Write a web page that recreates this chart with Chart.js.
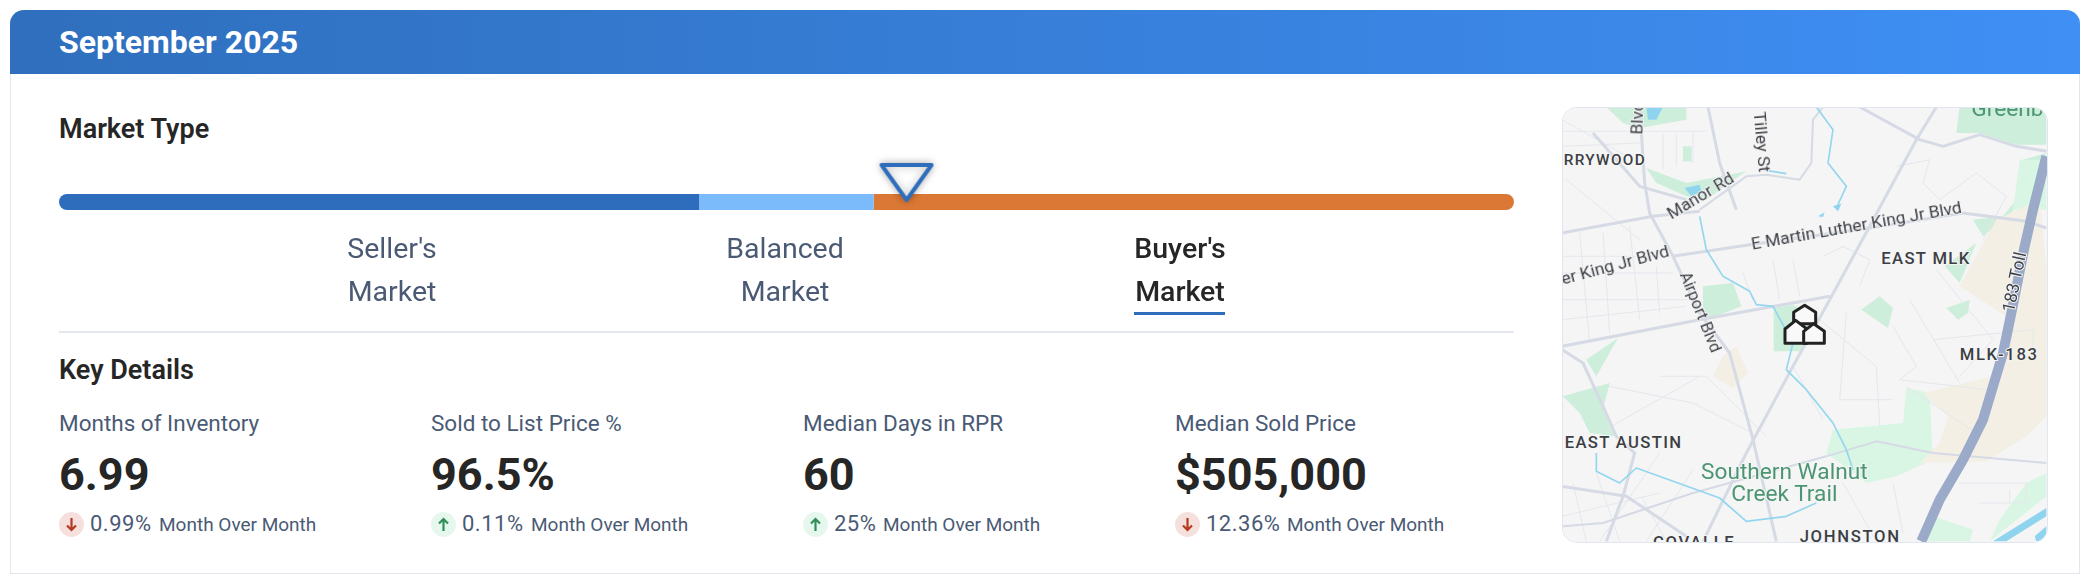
<!DOCTYPE html>
<html lang="en">
<head>
<meta charset="UTF-8">
<title>Market Type - September 2025</title>
<script src="https://cdn.jsdelivr.net/npm/chart.js@4"></script>
<style>
   html, body { margin: 0; padding: 0; background: #fff; }
   body { width: 2096px; height: 588px; position: relative; overflow: hidden; font-family: Roboto, sans-serif; color: #262626; }
   .abs { position: absolute; white-space: nowrap; line-height: 1; }
   #card { position: absolute; left: 10px; top: 10px; width: 2068px; height: 563px; border: 1px solid #e2e6ef; border-top: none; border-radius: 14px 14px 0 0; }
   #head { position: absolute; left: 10px; top: 10px; width: 2070px; height: 64px; border-radius: 14px 14px 0 0; background: linear-gradient(90deg, #2f6fbd, #3f8ff5); }
   #title { left: 59px; top: 26px; font-size: 32px; font-weight: 700; color: #fff; }
   #chartbox { position: absolute; left: 59px; top: 150px; width: 1455px; height: 104px; }
   .type { position: absolute; width: 240px; text-align: center; font-size: 28.5px; line-height: 43px; top: 227px; color: #4a5a75; }
   .type.on { color: #262626; font-weight: 500; }
   #underline { position: absolute; left: 1134px; top: 312px; width: 91px; height: 3px; background: #2e6dbb; }
   #divider { position: absolute; left: 59px; top: 331px; width: 1455px; height: 2px; background: #e4e7ee; }
   .kl { font-size: 22.5px; color: #4a5a75; top: 412px; }
   .kv { font-size: 45px; font-weight: 700; top: 452px; }
   .badge { position: absolute; width: 25px; height: 25px; top: 512px; border-radius: 50%; }
   .badge svg { position: absolute; left: 5px; top: 5px; }
   .kp { font-size: 22px; color: #4a5a75; top: 513px; letter-spacing: .5px; }
   .kn { font-size: 19px; color: #4a5a75; top: 515px; }
   #map { position: absolute; left: 1563px; top: 108px; width: 484px; height: 434px; border-radius: 14px; overflow: hidden; box-shadow: 0 0 0 1px #e2e6ef; }
   #map svg { filter: blur(.5px); }
   #map text { font-family: Roboto, sans-serif; paint-order: stroke; stroke: #f5f5f6; stroke-width: 6px; stroke-linejoin: round; fill: #3c3f44; }
</style>
</head>
<body>
<div id="card"></div>
<div id="head"></div>
<div class="abs" id="title">September 2025</div>
<div class="abs" style="left:59px;top:116px;font-size:27px;font-weight:600">Market Type</div>
<div id="chartbox"><canvas id="marketChart" width="1455" height="104"></canvas></div>
<div id="types"></div>
<div id="underline"></div>
<div id="divider"></div>
<div class="abs" style="left:59px;top:357px;font-size:27px;font-weight:600">Key Details</div>
<div id="kpis"></div>
<div id="map">
<svg width="484" height="434" viewBox="10 25 1452 1302" xmlns="http://www.w3.org/2000/svg">
   <rect x="0" y="0" width="1500" height="1400" fill="#f5f5f6"/>
   <g fill="#cdeedb" stroke="none">
      <path d="M1200 22H1460V135L1370 135 1260 100 1190 100Z"/>
      <path d="M140 22H380V60L240 85 190 70Z"/>
      <path d="M260 205L380 250 560 215 530 235 440 300 380 290 290 250Z"/>
      <path d="M430 560L520 550 545 620 470 650 430 660Z"/>
      <path d="M642 625L700 615 780 660 730 755H642Z"/>
      <path d="M905 630L960 590 1000 625 985 685Z"/>
      <path d="M1160 625L1230 600 1225 640 1195 660Z"/>
      <path d="M1460 160L1390 180 1370 300 1330 350 1240 360 1270 410 1330 360 1420 280Z"/>
      <path d="M1155 500L1250 430 1200 550Z"/>
      <path d="M80 780L175 715 110 830Z"/>
      <path d="M10 890L150 850 130 930 165 1010 90 1000 60 940Z"/>
      <rect x="370" y="140" width="26" height="45"/>
   </g>
   <g fill="#d9f6e4" stroke="none">
      <path d="M1040 865L1110 880 1120 1080 1010 1130 920 1150 800 1060 820 990 1030 970Z"/>
      <path d="M1380 180L1460 180 1460 330 1360 330Z"/>
      <path d="M1120 1250L1240 1290 1230 1325 1100 1325Z"/>
      <path d="M1290 1325L1460 1190 1460 1120 1400 1150 1320 1260Z"/>
   </g>
   <g fill="#f4efe4" stroke="none">
      <path d="M1310 360L1440 300 1460 500 1460 950 1400 1010 1280 1085 1080 1090 1140 1030 1165 950 1090 880 1300 830 1340 650 1200 560Z"/>
      <path d="M490 770L530 740 565 820 520 865 460 830Z"/>
   </g>
   <g fill="none" stroke="#e4e7ec" stroke-width="3">
      <path d="M7 95H440M7 140L240 130M7 60L220 180M20 240L240 420M310 100V210M350 100V200M400 95V190M7 470H330M7 520H340M7 600H400M7 660L380 620M60 400L90 730M130 400L150 700M210 380L240 660M290 500L300 640"/>
      <path d="M550 520L580 600M640 480L660 600M700 480L720 590M790 470L850 440 930 480 900 560M1010 200L1110 180 1090 250 1140 300 1250 220 1340 290 1270 420M1000 680L1070 800 1020 840 1280 870M860 640L840 900 1000 900M780 660L950 800 960 980M700 800L790 960M620 1010L440 830 300 830M580 1000L400 910 150 860M120 1000L420 830M300 1060L120 1325M400 1110L260 1325M1120 720L1420 690 1420 770M1130 510L1300 720 1200 830M1050 600L1200 850"/>
      <path d="M850 1150L950 1325M1200 1150H1400V1210L1260 1210M1350 1170V1210M1250 1000L1040 860M7 1250L300 1180M40 1150L80 1325M110 1120L180 1325M250 1200L320 1325M1000 1150L1030 1300"/>
   </g>
   <g fill="none" stroke="#d5dae4" stroke-width="9" stroke-linejoin="round">
      <path d="M240 22L255 250 270 340 340 470 420 640 510 760 580 1020 650 1325"/>
      <path d="M445 22L480 190 530 330"/>
      <path d="M7 400L280 350 420 335"/>
      <path d="M340 470L570 435 930 385 1210 340 1400 365 1460 385"/>
      <path d="M7 740L420 660 810 590"/>
      <path d="M1130 22L1070 120 930 380 810 600 700 800 560 1060 430 1325"/>
      <path d="M900 22L1080 120 1150 140 1260 105 1370 140 1460 155"/>
      <path d="M7 750L70 790 130 920 170 1010 225 1060 190 1190 140 1325"/>
      <path d="M7 1160L200 1190 380 1310"/>
      <path d="M100 100L240 260 380 300"/>
      <path d="M420 330L560 230 620 225 720 240 755 190 760 60 790 22" stroke-width="6"/>
      <path d="M7 1280L130 1270 400 1180 800 1070 950 1025 1120 1060 1460 1090" stroke-width="6"/>
   </g>
   <g fill="none" stroke="#93d6ee" stroke-width="5" stroke-linejoin="round">
      <path d="M770 22L820 90 805 190 860 260 830 325"/>
      <path d="M420 350L440 450 490 530 570 575 590 615 640 620 700 730 680 810 740 870 820 970 860 1050 880 1110"/>
      <path d="M110 1060L110 1115 180 1150 230 1105 480 1195 560 1265 680 1250 770 1210"/>
      <path d="M620 212L680 222"/>
   </g>
   <g fill="#8fd4ee" stroke="none">
      <path d="M260 22H310L290 60 265 60Z"/>
      <path d="M375 265L420 255 425 275 395 290Z"/>
      <path d="M820 320L845 312 835 335Z"/>
      <path d="M775 350L795 338 790 352Z"/>
      <path d="M1300 1325L1460 1225 1460 1250 1340 1325Z"/>
      <path d="M1425 1310L1460 1280V1325H1430Z"/>
   </g>
   <path d="M1460 170L1420 330 1395 440 1355 640 1330 760 1300 860 1270 960 1210 1080 1140 1200 1085 1325" fill="none" stroke="#9aaac8" stroke-width="30" stroke-linejoin="round"/>
   <g fill="#f9f9fa" stroke="#222" stroke-width="9" stroke-linejoin="round">
      <path d="M735 617L768 638V672H702V638Z"/>
      <path d="M676 731V688L708 662 742 688V731Z"/>
      <path d="M732 731V695L762 672 794 695V731Z"/>
   </g>
   <g font-size="52">
      <text x="12" y="196" font-size="46" letter-spacing="4" font-weight="500">RRYWOOD</text>
      <text x="965" y="493" font-size="50" letter-spacing="4" font-weight="500">EAST MLK</text>
      <text x="1200" y="782" font-size="50" letter-spacing="5" font-weight="500">MLK-183</text>
      <text x="15" y="1045" font-size="50" letter-spacing="4" font-weight="500">EAST AUSTIN</text>
      <text x="720" y="1327" font-size="50" letter-spacing="5" font-weight="500">JOHNSTON</text>
      <text x="280" y="1345" font-size="50" letter-spacing="5" font-weight="500">COVALLE</text>
      <text transform="translate(335 360) rotate(-31)">Manor Rd</text>
      <text transform="translate(578 450) rotate(-10)">E Martin Luther King Jr Blvd</text>
      <text transform="translate(10 555) rotate(-15)">er King Jr Blvd</text>
      <text transform="translate(360 525) rotate(68)" font-size="49">Airport Blvd</text>
      <text transform="translate(582 38) rotate(85)">Tilley St</text>
      <text transform="translate(248 105) rotate(-88)">Blvd</text>
      <text transform="translate(1362 640) rotate(-78)">183 Toll</text>
      <text x="674" y="1138" text-anchor="middle" font-size="68" style="fill:#4b9572">Southern Walnut</text>
      <text x="674" y="1205" text-anchor="middle" font-size="68" style="fill:#4b9572">Creek Trail</text>
      <text x="1235" y="50" font-size="68" style="fill:#4b9572;stroke:none">Greenb</text>
   </g>
</svg>
</div>
<script>
   // market type scale, months of inventory
   const marketTypes = ["Seller's", "Balanced", "Buyer's"];
   const marketRanges = [5.28, 1.44, 5.28];
   const marketColors = ['#2e6dbb', '#7bbbfb', '#db7835'];
   const scaleMax = 12;
   const currentValue = 6.99;
   const currentType = 2;

   const kpiLabels = ['Months of Inventory', 'Sold to List Price %', 'Median Days in RPR', 'Median Sold Price'];
   const kpiValues = ['6.99', '96.5%', '60', '$505,000'];
   const kpiChanges = ['0.99%', '0.11%', '25%', '12.36%'];
   const kpiUp = [false, true, true, false];
   const changeLabel = 'Month Over Month';

   const typeCenters = [392, 785, 1180];
   const kpiLefts = [59, 431, 803, 1175];

   const addEl = (parent, cls, text, style) => {
      const el = document.createElement('div');
      el.className = cls;
      el.innerHTML = text;
      Object.assign(el.style, style);
      parent.appendChild(el);
      return el;
   };

   marketTypes.forEach((t, i) => {
      addEl(document.getElementById('types'), i === currentType ? 'type on' : 'type',
         t + '<br>Market', { left: (typeCenters[i] - 120) + 'px' });
   });

   const kpis = document.getElementById('kpis');
   kpiLabels.forEach((label, i) => {
      const left = kpiLefts[i];
      addEl(kpis, 'abs kl', label, { left: left + 'px' });
      addEl(kpis, 'abs kv', kpiValues[i], { left: left + 'px' });
      const arrow = kpiUp[i]
         ? '<svg width="15" height="15" viewBox="0 0 15 15"><path d="M7.5 14V2M3 6.5L7.5 2 12 6.5" fill="none" stroke="#2f8f57" stroke-width="2.2"/></svg>'
         : '<svg width="15" height="15" viewBox="0 0 15 15"><path d="M7.5 1V13M3 8.5L7.5 13 12 8.5" fill="none" stroke="#b5391f" stroke-width="2.2"/></svg>';
      addEl(kpis, 'badge', arrow, { left: left + 'px', background: kpiUp[i] ? '#e6f7ee' : '#f6e0dd' });
      const pct = addEl(kpis, 'abs kp', kpiChanges[i], { left: (left + 31) + 'px' });
      addEl(kpis, 'abs kn', changeLabel, { left: (left + 31 + pct.offsetWidth + 7) + 'px' });
   });

   // marker image: tip sits on the canvas centre, so the point lands on the bar
   const markerImg = () => {
      const c = document.createElement('canvas');
      c.width = 76;
      c.height = 104;
      const ctx = c.getContext('2d');
      ctx.shadowColor = 'rgba(0,0,0,.28)';
      ctx.shadowBlur = 8;
      ctx.lineJoin = 'round';
      ctx.lineWidth = 4;
      ctx.strokeStyle = '#2e6dbb';
      ctx.fillStyle = '#fff';
      ctx.beginPath();
      ctx.moveTo(13, 15);
      ctx.lineTo(63, 15);
      ctx.lineTo(38, 50);
      ctx.closePath();
      ctx.fill();
      ctx.stroke();
      return c;
   };

   // grouped off: the marker's own y axis would otherwise count as a second group
   const barData = marketRanges.map((v, i) => ({
      label: marketTypes[i],
      data: [v],
      grouped: false,
      maxBarThickness: 16,
      backgroundColor: marketColors[i],
      order: 1,
      borderSkipped: false,
      borderRadius: i === 0 ? { topLeft: 8, bottomLeft: 8 } : (i === 2 ? { topRight: 8, bottomRight: 8 } : 0)
   }));

   new Chart(document.getElementById('marketChart'), {
      type: 'bar',
      data: {
         labels: ['Market Type'],
         datasets: [...barData, {
            type: 'scatter',
            indexAxis: 'x',
            label: 'Current',
            data: [{ x: currentValue, y: 0.5 }],
            xAxisID: 'x',
            yAxisID: 'yMark',
            order: 0,
            clip: false,
            pointStyle: markerImg(),
            pointRadius: 30
         }]
      },
      options: {
         indexAxis: 'y',
         responsive: false,
         animation: false,
         layout: { padding: 0, autoPadding: false },
         plugins: { legend: { display: false }, tooltip: { enabled: false } },
         scales: {
            x: { stacked: true, min: 0, max: scaleMax, display: false },
            y: { stacked: true, display: false, min: 'Market Type', max: 'Market Type' },
            yMark: { axis: 'y', type: 'linear', min: 0, max: 1, display: false }
         }
      }
   });
</script>
</body>
</html>
